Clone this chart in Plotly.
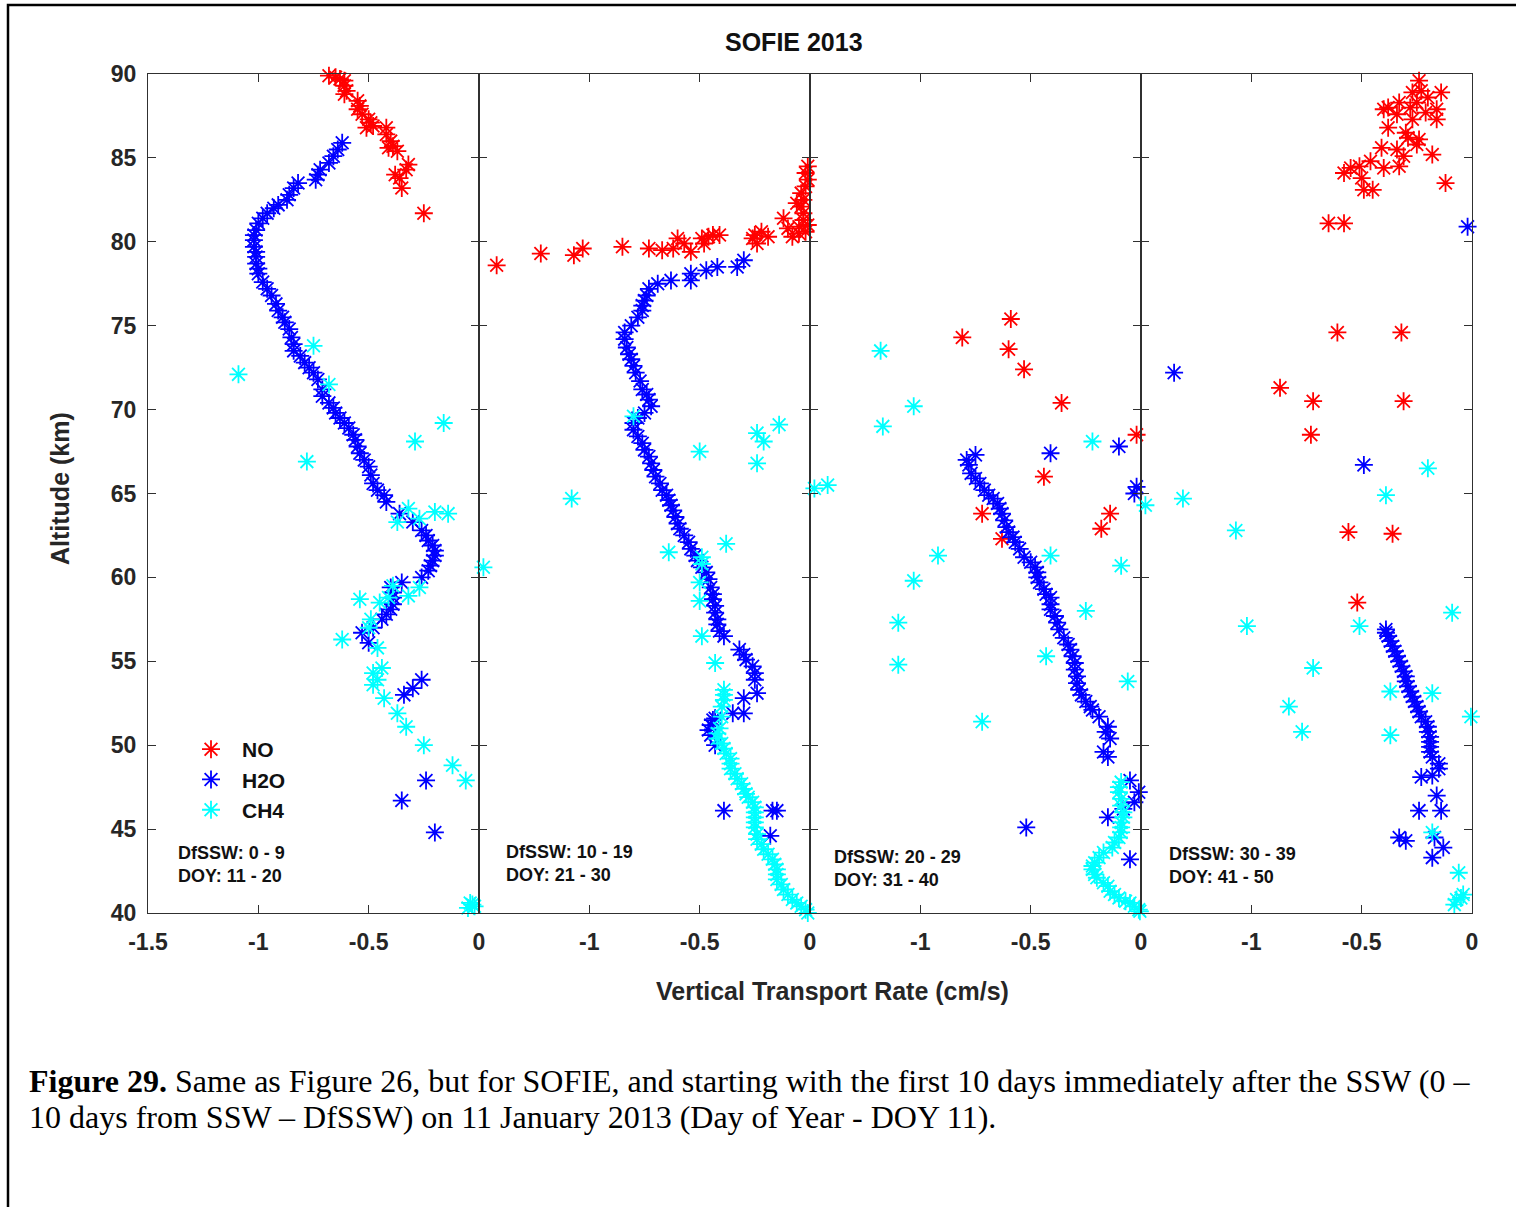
import plotly.graph_objects as go

# ---------------- data: (transport rate cm/s, altitude km) ----------------
no_1 = [(-0.68, 89.9), (-0.65, 89.8), (-0.63, 89.7), (-0.61, 89.6), (-0.61, 89.3), (-0.60, 89.0),
        (-0.61, 88.8), (-0.55, 88.4), (-0.54, 88.1), (-0.55, 87.9), (-0.53, 87.6), (-0.50, 87.3),
        (-0.49, 87.1), (-0.48, 86.9), (-0.51, 86.8), (-0.42, 86.8), (-0.42, 86.4), (-0.40, 86.0),
        (-0.39, 85.7), (-0.37, 85.4), (-0.41, 85.6), (-0.32, 84.6), (-0.33, 84.3), (-0.38, 84.0),
        (-0.36, 83.8), (-0.35, 83.2), (-0.25, 81.7)]
h2o_1 = [(-0.62, 85.9), (-0.64, 85.5), (-0.66, 85.1), (-0.68, 84.7), (-0.72, 84.3), (-0.73, 84.0),
         (-0.74, 83.7), (-0.82, 83.5), (-0.84, 83.2), (-0.86, 82.8), (-0.87, 82.5), (-0.91, 82.2),
         (-0.93, 82.0), (-0.96, 81.7), (-0.98, 81.4), (-1.00, 81.1), (-1.01, 80.7), (-1.02, 80.4),
         (-1.02, 80.1), (-1.02, 79.7), (-1.01, 79.4), (-1.01, 79.1), (-1.01, 78.7), (-1.00, 78.4),
         (-1.00, 78.1), (-0.98, 77.6), (-0.96, 77.2), (-0.94, 76.8), (-0.92, 76.3), (-0.91, 75.9),
         (-0.89, 75.5), (-0.88, 75.2), (-0.86, 74.8), (-0.85, 74.3), (-0.84, 73.9), (-0.84, 73.5),
         (-0.81, 73.2), (-0.79, 72.8), (-0.77, 72.5), (-0.75, 72.2), (-0.73, 71.8), (-0.71, 71.2),
         (-0.71, 70.8), (-0.68, 70.4), (-0.66, 70.1), (-0.65, 69.8), (-0.63, 69.5), (-0.61, 69.2),
         (-0.59, 68.9), (-0.57, 68.5), (-0.56, 68.2), (-0.55, 67.8), (-0.54, 67.4), (-0.52, 67.0),
         (-0.50, 66.6), (-0.49, 66.1), (-0.48, 65.6), (-0.46, 65.2), (-0.43, 64.9), (-0.42, 64.5),
         (-0.36, 63.8), (-0.30, 63.3), (-0.26, 62.8), (-0.24, 62.5), (-0.23, 62.2), (-0.21, 61.9),
         (-0.20, 61.6), (-0.20, 61.3), (-0.21, 61.0), (-0.22, 60.7), (-0.23, 60.4), (-0.26, 60.0),
         (-0.35, 59.7), (-0.40, 59.4), (-0.39, 59.1), (-0.39, 58.8), (-0.39, 58.4), (-0.40, 58.1),
         (-0.42, 57.8), (-0.44, 57.5), (-0.48, 57.0), (-0.53, 56.7), (-0.50, 56.1), (-0.26, 53.9),
         (-0.30, 53.4), (-0.34, 53.0), (-0.24, 47.9), (-0.35, 46.7), (-0.20, 44.8)]
ch4_1 = [(-0.75, 73.8), (-1.09, 72.1), (-0.68, 71.5), (-0.16, 69.2), (-0.29, 68.1), (-0.78, 66.9),
         (-0.32, 64.1), (-0.20, 63.9), (-0.14, 63.8), (-0.27, 63.5), (-0.37, 63.3), (-0.39, 59.5),
         (-0.27, 59.4), (-0.32, 58.9), (-0.41, 58.8), (-0.45, 58.5), (-0.54, 58.7), (-0.49, 57.5),
         (-0.50, 57.0), (-0.62, 56.3), (-0.46, 55.8), (-0.44, 54.6), (-0.48, 54.3), (-0.46, 53.9),
         (-0.48, 53.6), (-0.43, 52.8), (-0.37, 51.9), (-0.33, 51.1), (-0.25, 50.0), (-0.12, 48.8),
         (-0.06, 47.9), (-0.04, 40.6), (-0.02, 40.4), (-0.05, 40.3), (-0.03, 40.5)]

no_2 = [(-1.42, 78.6), (-1.22, 79.3), (-1.07, 79.2), (-1.03, 79.6), (-0.85, 79.7), (-0.73, 79.6),
        (-0.67, 79.5), (-0.62, 79.6), (-0.60, 80.2), (-0.57, 79.9), (-0.54, 79.4), (-0.49, 80.2),
        (-0.48, 79.9), (-0.46, 80.3), (-0.44, 80.4), (-0.41, 80.4), (-0.25, 80.4), (-0.22, 80.6),
        (-0.19, 80.3), (-0.24, 79.9), (-0.26, 80.2), (-0.12, 81.4), (-0.10, 80.8), (-0.08, 80.3),
        (-0.05, 80.5), (-0.05, 80.9), (-0.03, 81.3), (-0.03, 81.7), (-0.04, 82.1), (-0.03, 82.5),
        (-0.04, 82.9), (-0.06, 82.3), (-0.02, 83.3), (-0.01, 83.7), (-0.02, 84.1), (-0.01, 84.5),
        (-0.01, 81.0), (-0.02, 80.6)]
h2o_2 = [(-0.30, 78.9), (-0.33, 78.5), (-0.42, 78.5), (-0.47, 78.3), (-0.54, 78.1), (-0.54, 77.7),
         (-0.63, 77.7), (-0.69, 77.5), (-0.73, 77.2), (-0.74, 76.8), (-0.75, 76.5), (-0.76, 76.2),
         (-0.76, 75.9), (-0.78, 75.5), (-0.81, 75.0), (-0.84, 74.6), (-0.84, 74.2), (-0.83, 73.7),
         (-0.82, 73.3), (-0.81, 73.0), (-0.80, 72.6), (-0.79, 72.2), (-0.77, 71.7), (-0.76, 71.2),
         (-0.74, 70.9), (-0.73, 70.6), (-0.72, 70.2), (-0.75, 69.8), (-0.78, 69.5), (-0.80, 69.2),
         (-0.80, 68.8), (-0.78, 68.4), (-0.76, 68.0), (-0.75, 67.6), (-0.73, 67.2), (-0.72, 66.8),
         (-0.71, 66.4), (-0.70, 66.0), (-0.68, 65.6), (-0.67, 65.2), (-0.65, 64.9), (-0.64, 64.6),
         (-0.63, 64.3), (-0.62, 64.0), (-0.61, 63.6), (-0.60, 63.2), (-0.59, 62.9), (-0.57, 62.5),
         (-0.55, 62.1), (-0.54, 61.7), (-0.52, 61.3), (-0.51, 61.0), (-0.49, 60.6), (-0.47, 60.3),
         (-0.46, 59.9), (-0.45, 59.4), (-0.44, 59.0), (-0.44, 58.7), (-0.43, 58.3), (-0.43, 57.9),
         (-0.42, 57.5), (-0.42, 57.2), (-0.41, 56.8), (-0.39, 56.5), (-0.32, 55.7), (-0.30, 55.4),
         (-0.29, 55.1), (-0.26, 54.7), (-0.25, 54.3), (-0.25, 53.9), (-0.24, 53.1), (-0.30, 52.8),
         (-0.30, 51.9), (-0.35, 51.9), (-0.43, 51.6), (-0.44, 51.5), (-0.45, 51.2), (-0.46, 50.9),
         (-0.45, 50.6), (-0.43, 50.0), (-0.39, 46.1), (-0.17, 46.1), (-0.15, 46.1), (-0.18, 44.6)]
ch4_2 = [(-0.80, 69.6), (-0.14, 69.1), (-0.24, 68.6), (-0.21, 68.1), (-0.50, 67.5), (-0.24, 66.8),
         (-1.08, 64.7), (-0.38, 62.0), (-0.64, 61.5), (-0.49, 61.2), (-0.49, 60.8), (-1.48, 60.6),
         (-0.50, 59.7), (-0.50, 58.6), (-0.49, 56.5), (-0.43, 54.9), (-0.39, 53.3), (-0.39, 53.0),
         (-0.39, 52.7), (-0.40, 52.3), (-0.40, 51.7), (-0.41, 51.0), (-0.42, 50.7), (-0.42, 50.4),
         (-0.40, 50.1), (-0.39, 49.8), (-0.38, 49.5), (-0.36, 49.2), (-0.36, 48.9), (-0.36, 48.6),
         (-0.34, 48.3), (-0.33, 48.0), (-0.31, 47.7), (-0.30, 47.4), (-0.29, 47.1), (-0.28, 46.9),
         (-0.26, 46.6), (-0.25, 46.3), (-0.25, 46.0), (-0.25, 45.7), (-0.25, 45.4), (-0.25, 45.1),
         (-0.24, 44.7), (-0.24, 44.4), (-0.22, 44.1), (-0.21, 43.8), (-0.19, 43.5), (-0.17, 43.2),
         (-0.16, 42.9), (-0.15, 42.6), (-0.15, 42.3), (-0.15, 42.0), (-0.13, 41.7), (-0.12, 41.4),
         (-0.10, 41.1), (-0.08, 40.8), (-0.06, 40.6), (-0.04, 40.4), (-0.02, 40.2), (-0.01, 40.0)]

no_3 = [(-0.59, 75.4), (-0.81, 74.3), (-0.60, 73.6), (-0.53, 72.4), (-0.36, 70.4), (-0.02, 68.5),
        (-0.44, 66.0), (-0.72, 63.8), (-0.14, 63.8), (-0.18, 62.9), (-0.63, 62.3)]
h2o_3 = [(-0.10, 67.8), (-0.41, 67.4), (-0.75, 67.3), (-0.79, 67.0), (-0.78, 66.7), (-0.77, 66.2),
         (-0.75, 65.9), (-0.73, 65.6), (-0.71, 65.2), (-0.69, 64.9), (-0.67, 64.7), (-0.65, 64.4),
         (-0.64, 64.1), (-0.63, 63.8), (-0.62, 63.4), (-0.61, 63.0), (-0.60, 62.7), (-0.58, 62.4),
         (-0.57, 62.1), (-0.55, 61.7), (-0.53, 61.2), (-0.50, 60.9), (-0.48, 60.6), (-0.47, 60.3),
         (-0.47, 60.0), (-0.46, 59.7), (-0.44, 59.3), (-0.43, 59.0), (-0.41, 58.8), (-0.41, 58.4),
         (-0.41, 58.1), (-0.39, 57.7), (-0.38, 57.3), (-0.37, 56.9), (-0.35, 56.4), (-0.33, 56.0),
         (-0.32, 55.7), (-0.31, 55.3), (-0.30, 54.9), (-0.30, 54.5), (-0.29, 54.1), (-0.29, 53.7),
         (-0.28, 53.3), (-0.27, 53.0), (-0.25, 52.6), (-0.23, 52.3), (-0.22, 52.1), (-0.19, 51.7),
         (-0.15, 51.1), (-0.16, 50.8), (-0.14, 50.4), (-0.17, 49.6), (-0.15, 49.3), (-0.05, 47.9),
         (-0.01, 47.2), (-0.03, 46.6), (-0.08, 46.2), (-0.15, 45.7), (-0.52, 45.1), (-0.05, 43.2),
         (-0.02, 65.4), (-0.03, 65.0)]
ch4_3 = [(-1.18, 73.5), (-1.03, 70.2), (-1.17, 69.0), (-0.22, 68.1), (-1.48, 65.3), (-1.42, 65.5),
         (-0.92, 61.3), (-0.41, 61.3), (-0.09, 60.7), (-1.03, 59.8), (-0.25, 58.0), (-1.10, 57.3),
         (-0.43, 55.3), (-1.10, 54.8), (-0.06, 53.8), (-0.72, 51.4), (-0.09, 47.8), (-0.10, 47.5),
         (-0.10, 47.2), (-0.09, 46.8), (-0.09, 46.4), (-0.08, 46.0), (-0.08, 45.7), (-0.09, 45.4),
         (-0.09, 45.1), (-0.09, 44.8), (-0.10, 44.5), (-0.12, 44.2), (-0.13, 43.9), (-0.17, 43.6),
         (-0.19, 43.3), (-0.21, 43.0), (-0.22, 42.8), (-0.22, 42.6), (-0.21, 42.3), (-0.20, 42.1),
         (-0.17, 41.8), (-0.15, 41.6), (-0.14, 41.3), (-0.12, 41.1), (-0.10, 40.9), (-0.07, 40.7),
         (-0.05, 40.6), (-0.03, 40.4), (-0.01, 40.2), (-0.005, 40.1)]

no_4 = [(-0.24, 89.6), (-0.23, 89.0), (-0.14, 88.9), (-0.27, 88.9), (-0.20, 88.6), (-0.40, 87.9),
        (-0.38, 88.0), (-0.33, 88.3), (-0.28, 88.0), (-0.25, 88.3), (-0.16, 87.9), (-0.21, 87.7),
        (-0.16, 87.3), (-0.34, 87.6), (-0.27, 87.3), (-0.38, 86.8), (-0.30, 86.5), (-0.29, 86.2),
        (-0.24, 86.1), (-0.25, 85.8), (-0.41, 85.6), (-0.34, 85.5), (-0.18, 85.2), (-0.31, 85.1),
        (-0.40, 84.4), (-0.33, 84.5), (-0.46, 84.8), (-0.51, 84.5), (-0.55, 84.4), (-0.58, 84.1),
        (-0.50, 83.8), (-0.49, 83.1), (-0.45, 83.1), (-0.12, 83.5), (-0.65, 81.1), (-0.58, 81.1),
        (-0.61, 74.6), (-0.32, 74.6), (-0.87, 71.3), (-0.72, 70.5), (-0.31, 70.5), (-0.73, 68.5),
        (-0.56, 62.7), (-0.36, 62.6), (-0.52, 58.5)]
h2o_4 = [(-0.02, 80.9), (-1.35, 72.2), (-0.49, 66.7), (-0.39, 56.9), (-0.39, 56.7), (-0.38, 56.5),
         (-0.37, 56.2), (-0.36, 55.9), (-0.35, 55.6), (-0.34, 55.3), (-0.33, 55.0), (-0.32, 54.7),
         (-0.31, 54.4), (-0.30, 54.1), (-0.30, 53.8), (-0.29, 53.5), (-0.28, 53.2), (-0.27, 52.9),
         (-0.26, 52.6), (-0.25, 52.3), (-0.24, 52.0), (-0.23, 51.7), (-0.21, 51.4), (-0.20, 51.1),
         (-0.20, 50.8), (-0.19, 50.5), (-0.19, 50.2), (-0.19, 49.9), (-0.19, 49.6), (-0.18, 49.3),
         (-0.15, 48.9), (-0.15, 48.6), (-0.18, 48.2), (-0.23, 48.1), (-0.16, 47.0), (-0.14, 46.1),
         (-0.24, 46.1), (-0.33, 44.5), (-0.30, 44.3), (-0.17, 44.5), (-0.13, 43.9), (-0.18, 43.3)]
ch4_4 = [(-0.20, 66.5), (-0.39, 64.9), (-1.31, 64.7), (-1.48, 64.3), (-1.07, 62.8), (-0.09, 57.9),
         (-1.02, 57.1), (-0.51, 57.1), (-0.72, 54.6), (-0.37, 53.2), (-0.18, 53.1), (-0.83, 52.3),
         (-0.005, 51.7), (-0.77, 50.8), (-0.37, 50.6), (-0.18, 44.8), (-0.06, 42.4), (-0.04, 41.1),
         (-0.07, 40.8), (-0.08, 40.5), (-0.05, 40.9)]

species = ["NO", "H2O", "CH4"]
colors = {"NO": "#ff0000", "H2O": "#0000ff", "CH4": "#00ffff"}
panels = [
    {"NO": no_1, "H2O": h2o_1, "CH4": ch4_1},
    {"NO": no_2, "H2O": h2o_2, "CH4": ch4_2},
    {"NO": no_3, "H2O": h2o_3, "CH4": ch4_3},
    {"NO": no_4, "H2O": h2o_4, "CH4": ch4_4},
]
period_labels = [("DfSSW: 0 - 9", "DOY: 11 - 20"), ("DfSSW: 10 - 19", "DOY: 21 - 30"),
                 ("DfSSW: 20 - 29", "DOY: 31 - 40"), ("DfSSW: 30 - 39", "DOY: 41 - 50")]
x_ticks = [-1.5, -1, -0.5, 0]
y_ticks = [40, 45, 50, 55, 60, 65, 70, 75, 80, 85, 90]

# ---------------- page geometry (pixels) ----------------
W, H = 1516, 1207
L, R, T, B = 148, 1472, 74, 913


def px(xp):
    return (xp - L) / (R - L)


def py(yp):
    return (B - yp) / (B - T)


AXIS_COL = "#303030"
SANS = "Liberation Sans, Arial, sans-serif"
SERIF = "Liberation Serif, Times New Roman, serif"

fig = go.Figure()
for i, panel in enumerate(panels):
    n = "" if i == 0 else str(i + 1)
    for sp in species:
        pts = panel[sp]
        fig.add_trace(go.Scatter(
            x=[p[0] for p in pts], y=[p[1] for p in pts],
            xaxis="x" + n, yaxis="y" + n, mode="markers", name=sp,
            showlegend=(i == 0), cliponaxis=False,
            marker=dict(symbol="asterisk-open", size=15, color=colors[sp],
                        line=dict(color=colors[sp], width=1.8)),
        ))

    ticktext = ["-1.5" if i == 0 else "", "-1", "-0.5", "0"]
    fig.layout["xaxis" + n] = dict(
        domain=[i / 4, (i + 1) / 4], range=[-1.5, 0], anchor="y" + n,
        tickvals=x_ticks, ticktext=ticktext, ticks="inside", ticklen=8,
        tickcolor=AXIS_COL, showline=True, linecolor=AXIS_COL, linewidth=1,
        mirror="ticks", showgrid=False, zeroline=False, ticklabelstandoff=8,
        tickfont=dict(family=SANS, size=23, color="#262626", weight="bold"),
    )
    fig.layout["yaxis" + n] = dict(
        domain=[0, 1], range=[40, 90], anchor="x" + n,
        tickvals=y_ticks, ticks="inside", ticklen=8, tickcolor=AXIS_COL,
        showline=True, linecolor=AXIS_COL, linewidth=1, mirror="ticks",
        showgrid=False, zeroline=False, showticklabels=(i == 0), ticklabelstandoff=6,
        tickfont=dict(family=SANS, size=23, color="#262626", weight="bold"),
    )

# period labels inside each panel
label_pos = [(176, 853), (504, 852), (832, 857), (1167, 854)]
for (xl, yl), (l1, l2) in zip(label_pos, period_labels):
    for k, txt in enumerate((l1, l2)):
        fig.add_annotation(x=px(xl), y=py(yl + 23 * k), xref="paper", yref="paper",
                           text=txt, showarrow=False, xanchor="left", yanchor="middle",
                           font=dict(family=SANS, size=18, color="#111111", weight="bold"))

# titles
fig.add_annotation(x=px(794), y=py(42), xref="paper", yref="paper", text="SOFIE 2013",
                   showarrow=False, xanchor="center", yanchor="middle",
                   font=dict(family=SANS, size=25, color="#111111", weight="bold"))
fig.add_annotation(x=px(832), y=py(991), xref="paper", yref="paper",
                   text="Vertical Transport Rate (cm/s)", showarrow=False,
                   xanchor="center", yanchor="middle",
                   font=dict(family=SANS, size=25, color="#262626", weight="bold"))
fig.add_annotation(x=px(60), y=py(489), xref="paper", yref="paper", text="Altitude (km)",
                   textangle=-90, showarrow=False, xanchor="center", yanchor="middle",
                   font=dict(family=SANS, size=25, color="#262626", weight="bold"))

# figure caption
caption_lines = [
    "<b>Figure 29.</b> Same as Figure 26, but for SOFIE, and starting with the first 10 days "
    "immediately after the SSW (0 \u2013",
    "10 days from SSW \u2013 DfSSW) on 11 January 2013 (Day of Year - DOY 11).",
]
for k, line in enumerate(caption_lines):
    fig.add_annotation(x=px(27), y=py(1081 + 36 * k), xref="paper", yref="paper", text=line,
                       showarrow=False, xanchor="left", yanchor="middle", align="left",
                       font=dict(family=SERIF, size=32, color="black"))

# outer frame
fig.add_shape(type="rect", xref="paper", yref="paper",
              x0=px(8), x1=px(1530), y0=py(1230), y1=py(5),
              line=dict(color="black", width=2.5))

fig.update_layout(
    width=W, height=H, autosize=False,
    margin=dict(l=L, r=W - R, t=T, b=H - B),
    paper_bgcolor="white", plot_bgcolor="white",
    showlegend=True,
    legend=dict(x=px(180), y=py(729), xanchor="left", yanchor="top", itemwidth=52,
                bgcolor="rgba(0,0,0,0)", borderwidth=0,
                font=dict(family=SANS, size=21, color="#111111", weight="bold")),
)

fig.write_html("out.html")
